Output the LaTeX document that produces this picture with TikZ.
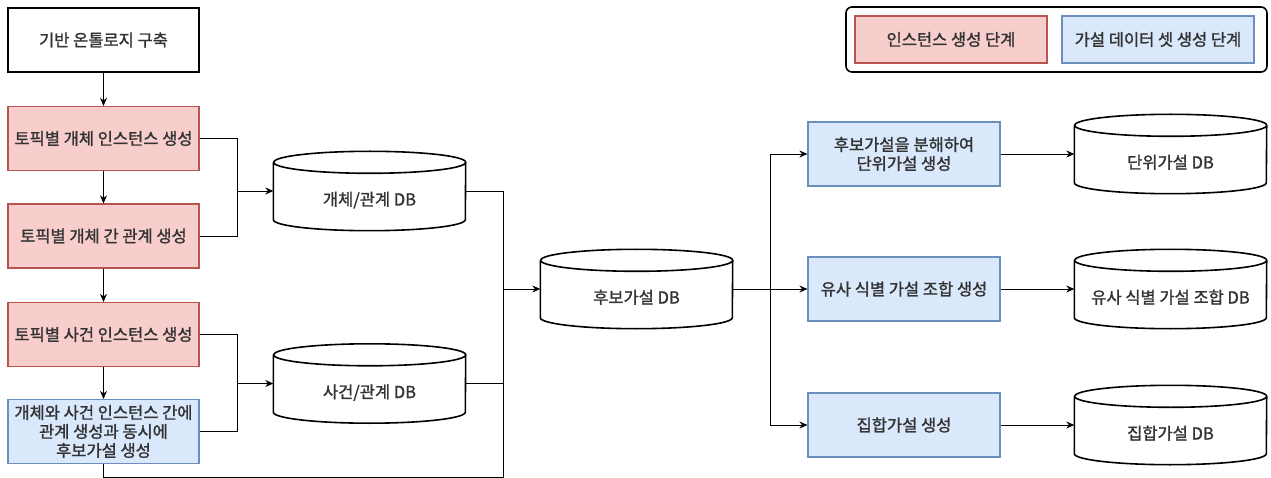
\documentclass[tikz,border=0pt]{standalone}
\usepackage{fontspec}
\setmainfont{Noto Sans CJK KR}[FakeBold=1.4]
\usetikzlibrary{arrows.meta}

\definecolor{redfill}{HTML}{F8CECC}
\definecolor{redline}{HTML}{B85450}
\definecolor{bluefill}{HTML}{DAE8FC}
\definecolor{blueline}{HTML}{6C8EBF}
\definecolor{ink}{HTML}{333333}

\tikzset{
  base/.style={draw, line width=1.2pt, minimum width=191pt, minimum height=64pt,
    align=center, inner sep=2pt, text=ink, font=\fontsize{16.5}{19}\selectfont},
  redbox/.style={base, fill=redfill, draw=redline},
  bluebox/.style={base, fill=bluefill, draw=blueline},
  dbnode/.style={minimum width=192pt, minimum height=79pt, inner sep=0pt, text=ink,
    text height=31pt, text depth=2pt, font=\fontsize{16.5}{19}\selectfont},
  link/.style={line width=0.8pt},
  arr/.style={link, -{Stealth[length=8pt,width=7pt]}}
}

\begin{document}
\begin{tikzpicture}[x=1pt,y=-1pt]
\useasboundingbox (0,0) rectangle (1271,478);

% left column
\node[base] (onto) at (103.5,40) {기반 온톨로지 구축};
\node[redbox] (b1) at (103.5,138.5) {토픽별 개체 인스턴스 생성};
\node[redbox] (b2) at (103.5,236) {토픽별 개체 간 관계 생성};
\node[redbox] (b3) at (103.5,334.5) {토픽별 사건 인스턴스 생성};
\node[bluebox] (b4) at (103.5,431.5) {개체와 사건 인스턴스 간에\\관계 생성과 동시에\\후보가설 생성};

% databases
\node[dbnode] (db1) at (369.5,191) {개체/관계 DB};
\node[dbnode] (db2) at (369.5,383.5) {사건/관계 DB};
\node[dbnode] (cand) at (636.5,289) {후보가설 DB};
\node[dbnode] (u1) at (1170.5,154) {단위가설 DB};
\node[dbnode] (u2) at (1170.5,289) {유사 식별 가설 조합 DB};
\node[dbnode] (u3) at (1170.5,425) {집합가설 DB};
\foreach \n in {db1,db2,cand,u1,u2,u3}{
  \draw[line width=1.6pt] ([yshift=-11pt]\n.north west) -- ([yshift=11pt]\n.south west)
    arc[start angle=180, end angle=360, x radius=96pt, y radius=11pt]
    -- ([yshift=-11pt]\n.north east)
    arc[start angle=0, end angle=360, x radius=96pt, y radius=11pt];
}

% right column
\node[bluebox, minimum width=192pt] (r1) at (904,154) {후보가설을 분해하여\\단위가설 생성};
\node[bluebox, minimum width=192pt] (r2) at (904,289) {유사 식별 가설 조합 생성};
\node[bluebox, minimum width=192pt] (r3) at (904,425) {집합가설 생성};

% legend
\node[draw, line width=1.6pt, rounded corners=6pt, minimum width=421pt, minimum height=65pt] (legend) at (1056.5,39.5) {};
\node[redbox, minimum width=192pt, minimum height=47pt] (lred) at (951,39.5) {인스턴스 생성 단계};
\node[bluebox, minimum width=192pt, minimum height=47pt] (lblue) at (1158,39.5) {가설 데이터 셋 생성 단계};

% junctions
\coordinate (j1) at (237,191);
\coordinate (j2) at (237,383.5);
\coordinate (j3) at (503,289);
\coordinate (j4) at (503,477);
\coordinate (j5) at (770,289);

% connectors
\draw[arr] (onto) -- (b1);
\draw[arr] (b1) -- (b2);
\draw[arr] (b2) -- (b3);
\draw[arr] (b3) -- (b4);
\draw[link] (b1.east) -| (j1);
\draw[arr] (b2.east) -| (j1) -- (db1.west);
\draw[link] (b3.east) -| (j2);
\draw[arr] (b4.east) -| (j2) -- (db2.west);
\draw[link] (db1.east) -| (j3);
\draw[link] (db2.east) -| (j3);
\draw[link] (b4.south) |- (j4) -- (j3);
\draw[arr] (j3) -- (cand.west);
\draw[link] (cand.east) -- (j5);
\draw[arr] (j5) |- (r1.west);
\draw[arr] (j5) -- (r2.west);
\draw[arr] (j5) |- (r3.west);
\draw[arr] (r1) -- (u1);
\draw[arr] (r2) -- (u2);
\draw[arr] (r3) -- (u3);
\end{tikzpicture}
\end{document}
